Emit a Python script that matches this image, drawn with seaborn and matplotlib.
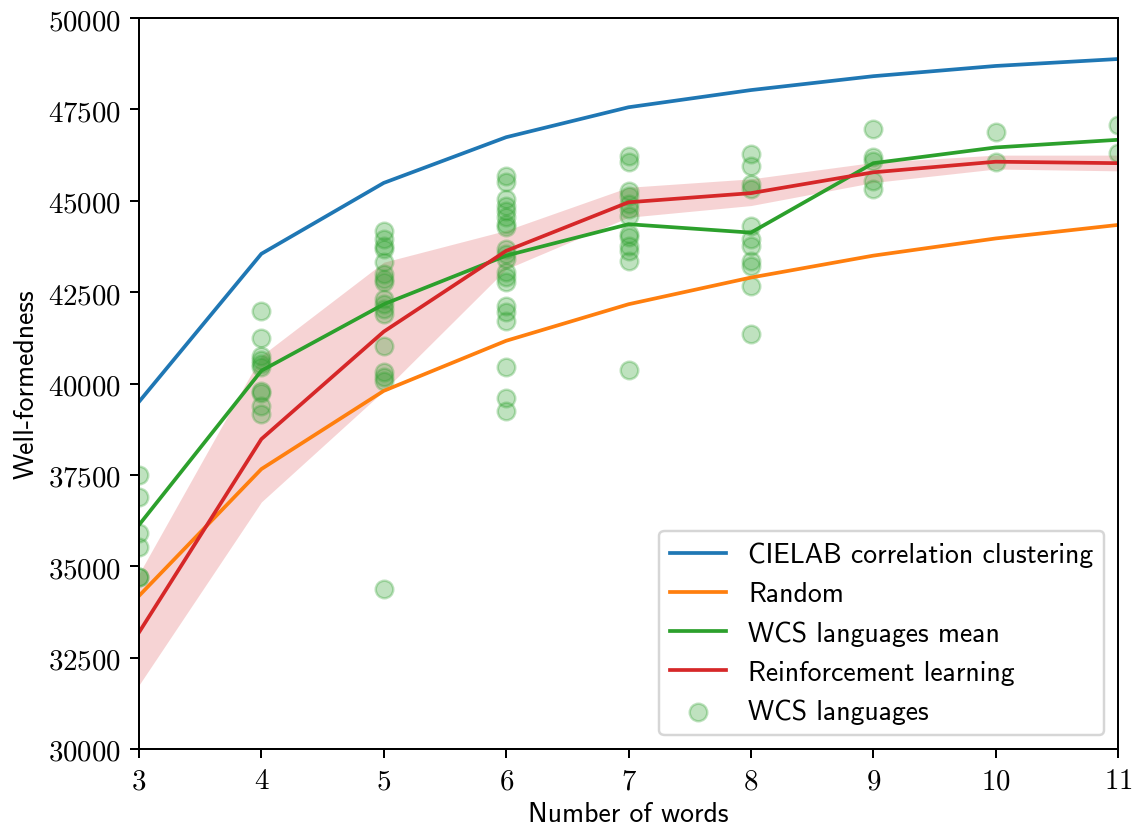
import numpy as np
import pandas as pd
import matplotlib
matplotlib.use("Agg")
import matplotlib.pyplot as plt
from matplotlib.ticker import FuncFormatter
import seaborn as sns

plt.rcParams['mathtext.fontset'] = 'cm'

# number of words
n_words = [3, 4, 5, 6, 7, 8, 9, 10, 11]

cielab = [39500, 43550, 45490, 46740, 47560, 48030, 48410, 48690, 48880]
random_wf = [34190, 37660, 39800, 41170, 42170, 42900, 43500, 43970, 44340]
wcs_mean = [36130, 40350, 42170, 43500, 44360, 44130, 46030, 46460, 46670]
rl_mean = [33190, 38480, 41420, 43630, 44960, 45210, 45780, 46070, 46030]
rl_low = [31750, 36760, 39800, 43130, 44550, 44870, 45500, 45870, 45820]
rl_high = [34790, 40760, 43320, 44190, 45370, 45600, 46050, 46250, 46250]

# individual WCS languages
wcs_x = ([3] * 6 + [4] * 10 + [5] * 17 + [6] * 20 + [7] * 13 + [8] * 11
         + [9] * 5 + [10] * 2 + [11] * 2)
wcs_y = [
    37500, 36890, 35910, 35520, 34710, 34700,
    41975, 41245, 40744, 40643, 40534, 40443, 39803, 39740, 39393, 39166,
    44181, 43954, 43770, 43680, 43333, 42996, 42859, 42769, 42312, 42175,
    42038, 41902, 41034, 40306, 40170, 40077, 34378,
    45685, 45505, 45048, 44865, 44728, 44547, 44364, 44274, 43680, 43543,
    43406, 43042, 42906, 42769, 42130, 41948, 41719, 40443, 39595, 39256,
    46233, 46052, 45275, 45138, 44911, 44774, 44590, 44090, 44000, 43770,
    43633, 43360, 40369,
    46279, 45959, 45458, 45321, 44318, 43954, 43770, 43360, 43223, 42676,
    41354,
    46963, 46189, 46096, 45548, 45321,
    46872, 46052,
    47073, 46306,
]

lines = pd.DataFrame({
    "n": n_words * 4,
    "wf": cielab + random_wf + wcs_mean + rl_mean,
    "method": (["CIELAB correlation clustering"] * 9 + ["Random"] * 9
               + ["WCS languages mean"] * 9 + ["Reinforcement learning"] * 9),
})
langs = pd.DataFrame({"n": wcs_x, "wf": wcs_y})

palette = {
    "CIELAB correlation clustering": "tab:blue",
    "Random": "tab:orange",
    "WCS languages mean": "tab:green",
    "Reinforcement learning": "tab:red",
}

fig, ax = plt.subplots(figsize=(6.4, 4.64), dpi=178.44)
fig.subplots_adjust(left=0.1217, right=0.979, top=0.977, bottom=0.0942)

sns.lineplot(data=lines, x="n", y="wf", hue="method", palette=palette,
             linewidth=1.5, ax=ax)
ax.fill_between(n_words, rl_low, rl_high, color="tab:red", alpha=0.2,
                linewidth=0)
sns.scatterplot(data=langs, x="n", y="wf", color="tab:green", alpha=0.3,
                s=50, edgecolor="tab:green", linewidth=1.0,
                label="WCS languages", ax=ax)

ax.set_xlim(3, 11)
ax.set_ylim(30000, 50000)
ax.set_xticks(n_words)
ax.set_yticks(np.arange(30000, 50001, 2500))
ax.xaxis.set_major_formatter(FuncFormatter(lambda v, p: f"${v:.0f}$"))
ax.yaxis.set_major_formatter(FuncFormatter(lambda v, p: f"${v:.0f}$"))
ax.tick_params(labelsize=11.7)

ax.set_xlabel("Number of words", family="cmss10", fontsize=11.2, labelpad=2.5)
ax.set_ylabel("Well-formedness", family="cmss10", fontsize=11.2)

leg = ax.legend(loc="lower right", prop={"family": "cmss10", "size": 11.2})

fig.savefig("out.png", dpi=178.44)
